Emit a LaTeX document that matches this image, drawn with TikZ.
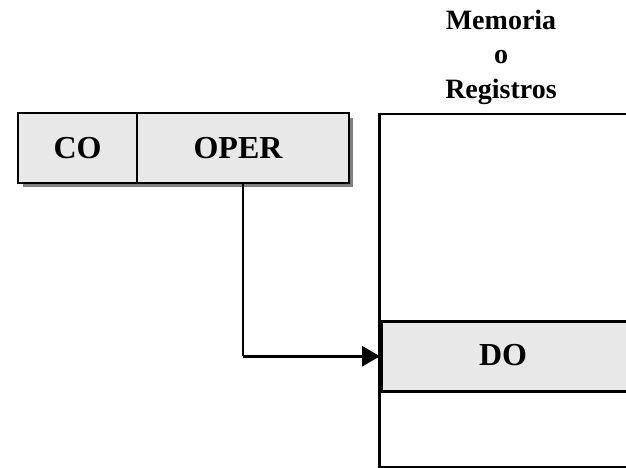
\documentclass[tikz,border=0pt]{standalone}
\usepackage{fontspec}
\setmainfont{Liberation Serif}
\usetikzlibrary{arrows.meta}
\definecolor{cellgray}{HTML}{E8E8E8}
\definecolor{shadowgray}{HTML}{808080}
\tikzset{
  cell/.style={draw=black, line width=2pt, fill=cellgray, rectangle, inner sep=0pt,
    anchor=north west, font=\fontsize{32}{32}\selectfont\bfseries},
  membox/.style={draw=black, line width=2.5pt, fill=white, rectangle, inner sep=0pt, anchor=north west},
  caption/.style={font=\fontsize{28}{34.5}\selectfont\bfseries, align=center},
}
\begin{document}
\begin{tikzpicture}[x=1pt,y=-1pt]
  \useasboundingbox (0,0) rectangle (626,468);
  \clip (0,0) rectangle (626,468);
  % instruction word with drop shadow
  \fill[shadowgray] (23,118) rectangle (353,187);
  \node[cell, minimum width=119pt, minimum height=70pt] (co) at (17,112) {CO};
  \node[cell, minimum width=212pt, minimum height=70pt] (oper) at (136,112) {\hspace*{-10pt}OPER};
  % memory / register file
  \node[caption] (title) at (501,57) {Memoria\\o\\Registros};
  \node[membox, minimum width=270pt, minimum height=353pt] (mem) at (378,113) {};
  \node[cell, line width=2.5pt, minimum width=270pt, minimum height=70pt] (dobox) at (380,320) {};
  \node[font=\fontsize{32}{32}\selectfont\bfseries] (do) at (503,355) {DO};
  % addressing path
  \coordinate (bend) at (oper.south |- dobox.west);
  \draw[line width=2pt] (oper.south) -- (bend);
  \draw[line width=3pt, -{Triangle[length=18pt,width=20pt]}] (bend) -- (dobox.west);
\end{tikzpicture}
\end{document}
